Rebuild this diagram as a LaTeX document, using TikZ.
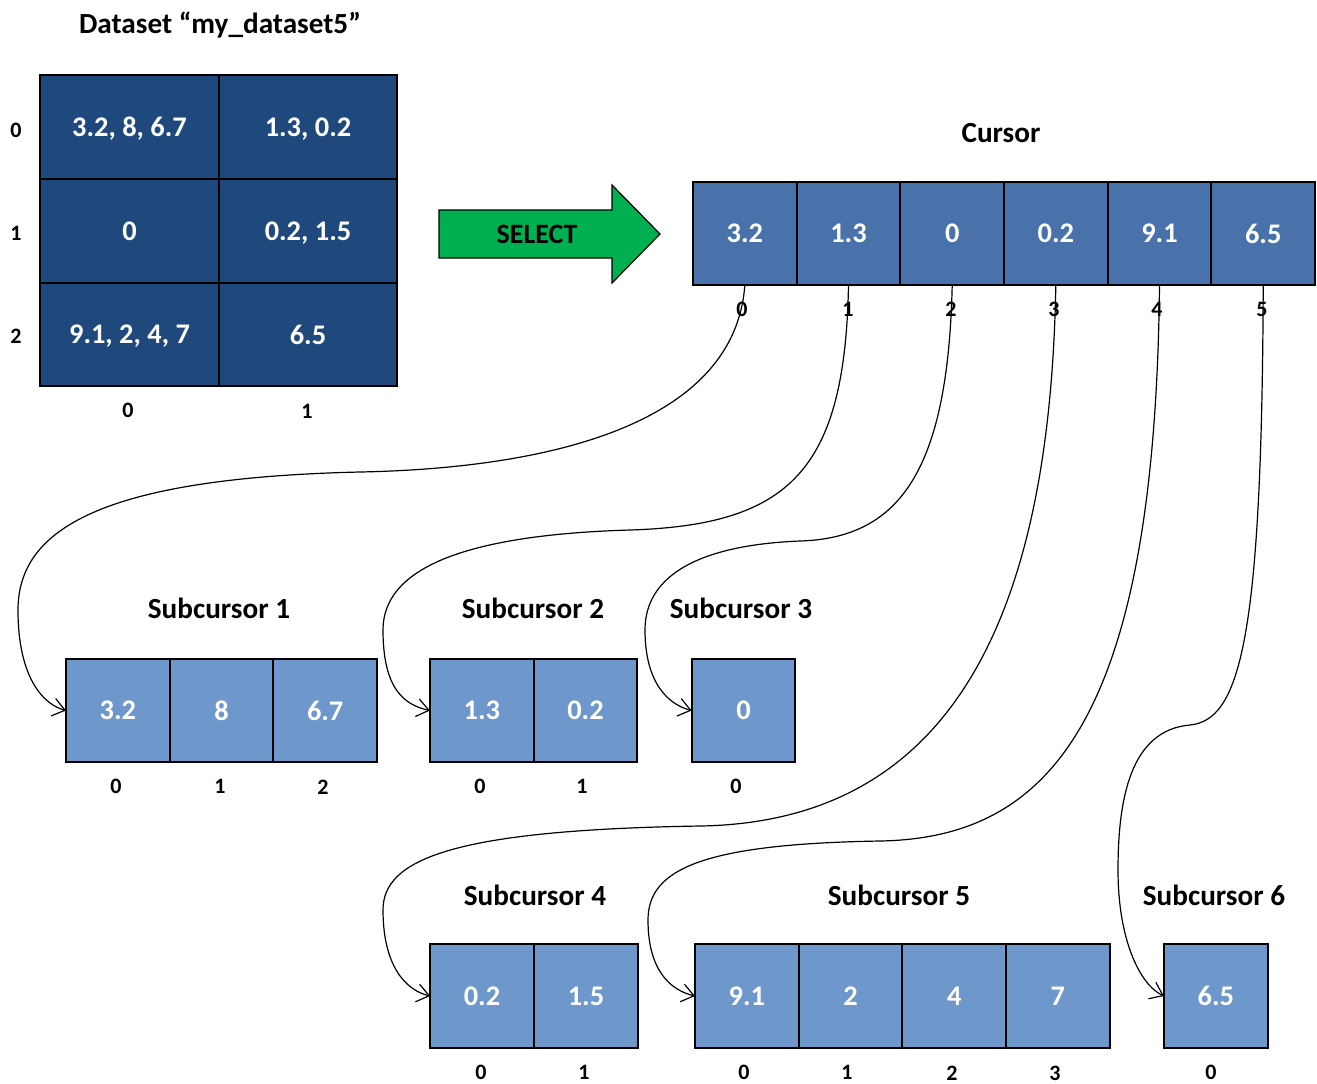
\documentclass[tikz,border=0pt]{standalone}
\usepackage{fontspec}
\setmainfont{Carlito}
\usetikzlibrary{arrows.meta}
\definecolor{dsblue}{HTML}{1F497D}
\definecolor{curblue}{HTML}{4872A9}
\definecolor{subblue}{HTML}{6E97CB}
\definecolor{selgreen}{HTML}{00B050}
\begin{document}
\begin{tikzpicture}[x=0.5pt,y=-0.5pt,
  box/.style={draw=black, line width=0.9pt, inner sep=0pt, outer sep=0pt, text=white,
    font=\fontsize{14.2}{16}\selectfont\bfseries, text depth=0pt,
    minimum width=51.83pt, minimum height=51.75pt},
  dcell/.style={box, fill=dsblue, minimum width=89.25pt},
  ccell/.style={box, fill=curblue},
  scell/.style={box, fill=subblue},
  ttl/.style={font=\fontsize{14.6}{16}\selectfont\bfseries, inner sep=0pt, anchor=base},
  idx/.style={font=\fontsize{11}{12}\selectfont\bfseries, inner sep=0pt, text depth=0pt},
  link/.style={draw=black, line width=0.6pt, -{Straight Barb[length=6pt,width=9pt]}}
]
\useasboundingbox (0,0) rectangle (1317,1083);

% ---------- Dataset ----------
\node[ttl] (dstitle) at (220,33) {Dataset “my\_dataset5”};
\node[dcell] (d00) at (129.5,127) {3.2, 8, 6.7};
\node[dcell] (d01) at (308,127) {1.3, 0.2};
\node[dcell] (d10) at (129.5,230.7) {0};
\node[dcell] (d11) at (308,230.7) {0.2, 1.5};
\node[dcell] (d20) at (129.5,334.4) {9.1, 2, 4, 7};
\node[dcell] (d21) at (308,334.4) {6.5};
\node[idx] (dr0) at (16,130) {0};
\node[idx] (dr1) at (16,233) {1};
\node[idx] (dr2) at (16,336) {2};
\node[idx] (dc0) at (128,410) {0};
\node[idx] (dc1) at (307,411) {1};

% ---------- SELECT arrow ----------
\draw[fill=selgreen, line width=0.6pt] (439,210) -- (612,210) -- (612,185) -- (660,234) -- (612,283) -- (612,258) -- (439,258) -- cycle;
\node[font=\fontsize{14}{15}\selectfont\bfseries, inner sep=0pt, text depth=0pt] (sel) at (537,234) {SELECT};

% ---------- Cursor ----------
\node[ttl] (curtitle) at (1001,142) {Cursor};
\node[ccell] (c0) at (744.8,233.5) {3.2};
\node[ccell] (c1) at (848.5,233.5) {1.3};
\node[ccell] (c2) at (952.2,233.5) {0};
\node[ccell] (c3) at (1055.8,233.5) {0.2};
\node[ccell] (c4) at (1159.5,233.5) {9.1};
\node[ccell] (c5) at (1263.2,233.5) {6.5};
\node[idx] (cl0) at (742,309) {0};
\node[idx] (cl1) at (848,309) {1};
\node[idx] (cl2) at (951,309) {2};
\node[idx] (cl3) at (1054,309) {3};
\node[idx] (cl4) at (1157,309) {4};
\node[idx] (cl5) at (1262,309) {5};

% ---------- Subcursors row 1 ----------
\node[ttl] (t1) at (219,618) {Subcursor 1};
\node[scell] (s1a) at (117.8,710.5) {3.2};
\node[scell] (s1b) at (221.5,710.5) {8};
\node[scell] (s1c) at (325.2,710.5) {6.7};
\node[idx] (s1la) at (116,786) {0};
\node[idx] (s1lb) at (220,786) {1};
\node[idx] (s1lc) at (323,787) {2};

\node[ttl] (t2) at (533,618) {Subcursor 2};
\node[scell] (s2a) at (481.8,710.5) {1.3};
\node[scell] (s2b) at (585.5,710.5) {0.2};
\node[idx] (s2la) at (480,786) {0};
\node[idx] (s2lb) at (582,786) {1};

\node[ttl] (t3) at (741,618) {Subcursor 3};
\node[scell] (s3a) at (743.5,710.5) {0};
\node[idx] (s3la) at (736,786) {0};

% ---------- Subcursors row 2 ----------
\node[ttl] (t4) at (535,905) {Subcursor 4};
\node[scell] (s4a) at (482,996) {0.2};
\node[scell] (s4b) at (586,996) {1.5};
\node[idx] (s4la) at (481,1072) {0};
\node[idx] (s4lb) at (584,1072) {1};

\node[ttl] (t5) at (899,905) {Subcursor 5};
\node[scell] (s5a) at (746.8,996) {9.1};
\node[scell] (s5b) at (850.5,996) {2};
\node[scell] (s5c) at (954.2,996) {4};
\node[scell] (s5d) at (1057.8,996) {7};
\node[idx] (s5la) at (744,1072) {0};
\node[idx] (s5lb) at (847,1072) {1};
\node[idx] (s5lc) at (952,1073) {2};
\node[idx] (s5ld) at (1055,1073) {3};

\node[ttl] (t6) at (1214,905) {Subcursor 6};
\node[scell] (s6a) at (1215.8,996) {6.5};
\node[idx] (s6la) at (1211,1072) {0};

% ---------- Connectors ----------
\draw[link] (c0.south) .. controls (735,420) and (560,468) .. (360,472)
  .. controls (100,478) and (18,530) .. (18,610)
  .. controls (18,680) and (45,705) .. (s1a.west);
\draw[link] (c1.south) .. controls (845,470) and (790,525) .. (630,530)
  .. controls (460,535) and (383,570) .. (383,630)
  .. controls (383,690) and (405,705) .. (s2a.west);
\draw[link] (c2.south) .. controls (948,470) and (900,538) .. (800,541)
  .. controls (700,545) and (645,575) .. (645,630)
  .. controls (645,685) and (670,705) .. (s3a.west);
\draw[link] (c3.south) .. controls (1050,620) and (950,822) .. (700,826)
  .. controls (450,830) and (383,860) .. (383,910)
  .. controls (383,965) and (405,990) .. (s4a.west);
\draw[link] (c4.south) .. controls (1155,720) and (1050,838) .. (880,841)
  .. controls (700,844) and (648,870) .. (648,920)
  .. controls (648,970) and (670,990) .. (s5a.west);
\draw[link] (c5.south) .. controls (1262,640) and (1240,720) .. (1190,725)
  .. controls (1130,730) and (1118,800) .. (1118,870)
  .. controls (1118,940) and (1140,985) .. (s6a.west);
\end{tikzpicture}
\end{document}
